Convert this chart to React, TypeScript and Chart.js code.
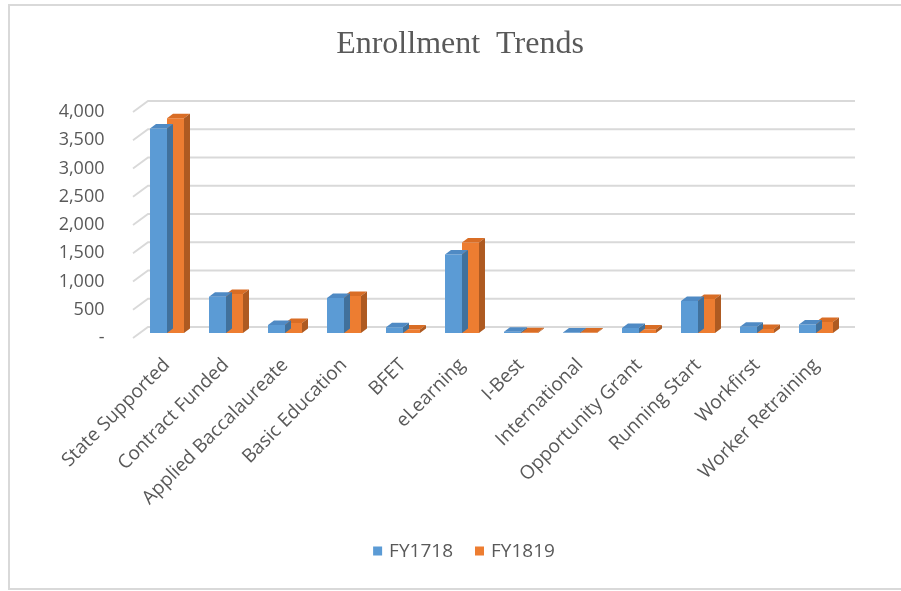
import React, { useEffect, useRef } from "react";
import { Chart, registerables } from "chart.js";

Chart.register(...registerables);

const categories = [
  "State Supported",
  "Contract Funded",
  "Applied Baccalaureate",
  "Basic Education",
  "BFET",
  "eLearning",
  "I-Best",
  "International",
  "Opportunity Grant",
  "Running Start",
  "Workfirst",
  "Worker Retraining",
];
const fy1718 = [3620, 640, 140, 620, 100, 1390, 20, 10, 90, 565, 110, 150];
const fy1819 = [3800, 690, 175, 655, 60, 1600, 15, 10, 60, 600, 70, 195];
const seriesNames = ["FY1718", "FY1819"];
const titleText = "Enrollment  Trends";
const yTickStep = 500;
const yMax = 4000;

const FRONT = ["#5B9BD5", "#ED7D31"];
const TOP = ["#4F8AC4", "#D96D25"];
const SIDE = ["#41719C", "#AE5A21"];
const DX = 6;
const DY = 4.5;
const TEXT = "#595959";
const SANS = "'Open Sans', 'Noto Sans', sans-serif";

const frame3d = {
  id: "frame3d",
  beforeDraw(chart: any) {
    const ctx = chart.ctx;
    ctx.save();
    ctx.fillStyle = "#ffffff";
    ctx.fillRect(0, 0, chart.width, chart.height);
    ctx.strokeStyle = "#d9d9d9";
    ctx.lineWidth = 2;
    ctx.strokeRect(9, 5, 1000, 584);
    ctx.restore();
  },
  beforeDatasetsDraw(chart: any) {
    const ctx = chart.ctx;
    const ys = chart.scales.y;
    const ca = chart.chartArea;
    const xFront = ca.left - 4.5;
    const xBack = ca.left + 10.5;
    const xEnd = ca.right + 9.5;
    ctx.save();
    ctx.strokeStyle = "#d9d9d9";
    ctx.lineWidth = 1.8;
    for (let v = 0; v <= yMax; v += yTickStep) {
      const yb = ys.getPixelForValue(v);
      ctx.beginPath();
      ctx.moveTo(xFront, yb + 5);
      ctx.lineTo(xBack, yb - 6);
      ctx.lineTo(xEnd, yb - 6);
      ctx.stroke();
    }
    ctx.restore();
  },
  afterDatasetDraw(chart: any, args: any) {
    const ctx = chart.ctx;
    const i = args.index;
    const meta = chart.getDatasetMeta(i);
    ctx.save();
    meta.data.forEach((bar: any) => {
      const { x, y, base, width } = bar.getProps(["x", "y", "base", "width"], true);
      const l = x - width / 2;
      const r = x + width / 2;
      ctx.fillStyle = TOP[i];
      ctx.beginPath();
      ctx.moveTo(l, y);
      ctx.lineTo(l + DX, y - DY);
      ctx.lineTo(r + DX, y - DY);
      ctx.lineTo(r, y);
      ctx.closePath();
      ctx.fill();
      ctx.fillStyle = SIDE[i];
      ctx.beginPath();
      ctx.moveTo(r, y);
      ctx.lineTo(r + DX, y - DY);
      ctx.lineTo(r + DX, base - DY);
      ctx.lineTo(r, base);
      ctx.closePath();
      ctx.fill();
    });
    ctx.restore();
  },
  afterDraw(chart: any) {
    const ctx = chart.ctx;
    ctx.save();
    ctx.fillStyle = TEXT;
    ctx.font = "32px 'Liberation Serif', 'Times New Roman', serif";
    ctx.textAlign = "center";
    ctx.textBaseline = "middle";
    ctx.fillText(titleText, 460, 45);
    ctx.font = `19px ${SANS}`;
    ctx.textAlign = "left";
    const box = 9;
    const gap = 7;
    const spacing = 22;
    const w0 = ctx.measureText(seriesNames[0]).width;
    const w1 = ctx.measureText(seriesNames[1]).width;
    const total = box + gap + w0 + spacing + box + gap + w1;
    let x = 464 - total / 2;
    const cy = 551;
    [w0, w1].forEach((w, i) => {
      ctx.fillStyle = FRONT[i];
      ctx.fillRect(x, cy - box / 2, box, box);
      ctx.fillStyle = TEXT;
      ctx.fillText(seriesNames[i], x + box + gap, cy + 1);
      x += box + gap + w + spacing;
    });
    ctx.restore();
  },
};

export default function App() {
  const ref = useRef<HTMLCanvasElement | null>(null);
  useEffect(() => {
    if (!ref.current) return;
    const chart = new Chart(ref.current, {
      type: "bar",
      data: {
        labels: categories,
        datasets: [
          { label: seriesNames[0], data: fy1718, backgroundColor: FRONT[0], borderWidth: 0 },
          { label: seriesNames[1], data: fy1819, backgroundColor: FRONT[1], borderWidth: 0 },
        ],
      },
      options: {
        responsive: false,
        animation: false,
        layout: { padding: { left: 0, right: 55.5, top: 107, bottom: 58 } },
        plugins: {
          tooltip: { enabled: false },
          title: { display: false },
          legend: { display: false },
        },
        scales: {
          x: {
            grid: { display: false, drawTicks: false },
            border: { display: false },
            ticks: {
              color: TEXT,
              font: { family: SANS, size: 19 },
              maxRotation: 45,
              minRotation: 45,
              autoSkip: false,
              padding: 21,
            },
            afterFit(scale: any) {
              scale.height = 200;
            },
          },
          y: {
            min: 0,
            max: yMax,
            grid: { display: false, drawTicks: false },
            border: { display: false },
            ticks: {
              stepSize: yTickStep,
              color: TEXT,
              font: { family: SANS, size: 18 },
              padding: 33,
              labelOffset: 5,
              callback: (v: any) => (Number(v) === 0 ? "-" : Number(v).toLocaleString("en-US")),
            },
            afterFit(scale: any) {
              scale.width = 137.5;
            },
          },
        },
        datasets: {
          bar: { barPercentage: 1, categoryPercentage: 0.576 },
        },
      } as any,
      plugins: [frame3d],
    });
    return () => chart.destroy();
  }, []);
  return (
    <div style={{ position: "absolute", left: 0, top: 0, width: 901, height: 591 }}>
      <canvas ref={ref} width={901} height={591} />
    </div>
  );
}
